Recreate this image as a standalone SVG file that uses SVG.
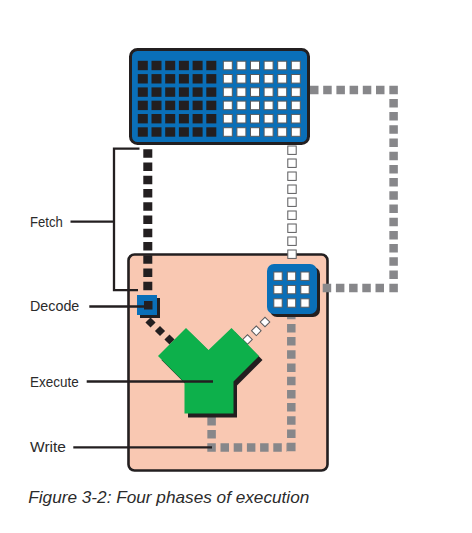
<svg xmlns="http://www.w3.org/2000/svg" width="472" height="533" viewBox="0 0 472 533">
  <style>
    .ink { fill: #231f20; }
    .blue { fill: #0a6fb8; }
    .lead { stroke: #231f20; stroke-width: 2.3; fill: none; }
    .wsq { fill: #ffffff; stroke: #5a5a5c; stroke-width: 1; }
    .gray { stroke: #87878a; stroke-width: 8.5; fill: none; stroke-dasharray: 8.5 4.7; }
    .label { font-family: "Liberation Sans", Arial, sans-serif; font-size: 15px; fill: #2b2b2b; }
    .caption { font-family: "Liberation Sans", Arial, sans-serif; font-size: 17px; font-style: italic; fill: #2b2b2b; }
  </style>
  <defs>
    <rect id="bk" width="10" height="9.4" class="ink"/>
    <rect id="wk" width="9" height="8.6" class="wsq"/>
    <rect id="rk" width="8.4" height="8.4" class="wsq"/>
    <rect id="dmB" x="-3.6" y="-3.6" width="7.2" height="7.2" class="ink" transform="rotate(45)"/>
    <rect id="dmW" x="-3.4" y="-3.4" width="6.8" height="6.8" class="wsq" transform="rotate(45)"/>
  </defs>

  <rect width="472" height="533" fill="#ffffff"/>

  <!-- CPU body -->
  <g id="cpu">
    <rect x="128.5" y="254.5" width="199" height="216" rx="6" fill="#f9c8b2" stroke="#231f20" stroke-width="2.6"/>
  </g>

  <!-- data paths between the parts -->
  <g id="connectors">
    <!-- fetch path: memory to decode unit -->
    <line x1="147.8" y1="149.3" x2="147.8" y2="290.3" stroke="#231f20" stroke-width="9" stroke-dasharray="8.5 4.75"/>
    <!-- decode to execute -->
    <use href="#dmB" transform="translate(150.5,322.5)"/>
    <use href="#dmB" transform="translate(160,331)"/>
    <use href="#dmB" transform="translate(169.5,339.5)"/>
    <!-- register to execute -->
    <use href="#dmW" transform="translate(247.5,339.5)"/>
    <use href="#dmW" transform="translate(256.3,330.8)"/>
    <use href="#dmW" transform="translate(265,322)"/>
    <!-- memory to register (data) -->
    <use href="#rk" x="287.8" y="146"/>
    <use href="#rk" x="287.8" y="159"/>
    <use href="#rk" x="287.8" y="172"/>
    <use href="#rk" x="287.8" y="185"/>
    <use href="#rk" x="287.8" y="198"/>
    <use href="#rk" x="287.8" y="211"/>
    <use href="#rk" x="287.8" y="224"/>
    <use href="#rk" x="287.8" y="237"/>
    <use href="#rk" x="287.8" y="250"/>
    <!-- register back out to memory -->
    <line class="gray" x1="393.6" y1="85.7" x2="393.6" y2="292.5"/>
    <line class="gray" x1="310" y1="90" x2="385" y2="90"/>
    <line class="gray" x1="322.7" y1="288" x2="384" y2="288"/>
    <!-- write path -->
    <line class="gray" x1="291.3" y1="310.7" x2="291.3" y2="452"/>
    <line class="gray" x1="207.3" y1="447.5" x2="287" y2="447.5"/>
    <path class="gray" d="M211.6 438.6 V395"/>
  </g>

  <!-- decode unit -->
  <g id="decode">
    <rect x="140" y="298" width="20" height="20" class="ink"/>
    <rect x="137" y="295" width="20" height="20" class="blue"/>
    <rect x="144" y="301" width="8.5" height="8.5" class="ink"/>
  </g>

  <!-- execute unit -->
  <g id="execute">
    <polygon class="ink" transform="translate(3.5,4)" points="158,356 186,328 208.5,350 231.5,328 259,356 233.5,381.5 233.5,413.5 184.5,413.5 184.5,382.5"/>
    <polygon fill="#0db04b" points="158,356 186,328 208.5,350 231.5,328 259,356 233.5,381.5 233.5,413.5 184.5,413.5 184.5,382.5"/>
  </g>

  <!-- register file -->
  <g id="registers">
    <rect x="270" y="267" width="50" height="50" rx="7" class="ink"/>
    <rect x="267" y="264" width="50" height="50" rx="7" class="blue"/>
    <use href="#rk" x="273.8" y="272"/>
    <use href="#rk" x="287.3" y="272"/>
    <use href="#rk" x="300.8" y="272"/>
    <use href="#rk" x="273.8" y="285.4"/>
    <use href="#rk" x="287.3" y="285.4"/>
    <use href="#rk" x="300.8" y="285.4"/>
    <use href="#rk" x="273.8" y="298.8"/>
    <use href="#rk" x="287.3" y="298.8"/>
    <use href="#rk" x="300.8" y="298.8"/>
  </g>

  <!-- memory -->
  <g id="memory">
    <rect x="130.5" y="49.5" width="178" height="94" rx="7" class="blue" stroke="#231f20" stroke-width="3"/>
    <g>
      <use href="#bk" x="137.8" y="60.8"/><use href="#bk" x="151.5" y="60.8"/><use href="#bk" x="165.2" y="60.8"/><use href="#bk" x="178.9" y="60.8"/><use href="#bk" x="192.6" y="60.8"/><use href="#bk" x="206.3" y="60.8"/>
      <use href="#bk" x="137.8" y="74.1"/><use href="#bk" x="151.5" y="74.1"/><use href="#bk" x="165.2" y="74.1"/><use href="#bk" x="178.9" y="74.1"/><use href="#bk" x="192.6" y="74.1"/><use href="#bk" x="206.3" y="74.1"/>
      <use href="#bk" x="137.8" y="87.4"/><use href="#bk" x="151.5" y="87.4"/><use href="#bk" x="165.2" y="87.4"/><use href="#bk" x="178.9" y="87.4"/><use href="#bk" x="192.6" y="87.4"/><use href="#bk" x="206.3" y="87.4"/>
      <use href="#bk" x="137.8" y="100.7"/><use href="#bk" x="151.5" y="100.7"/><use href="#bk" x="165.2" y="100.7"/><use href="#bk" x="178.9" y="100.7"/><use href="#bk" x="192.6" y="100.7"/><use href="#bk" x="206.3" y="100.7"/>
      <use href="#bk" x="137.8" y="114"/><use href="#bk" x="151.5" y="114"/><use href="#bk" x="165.2" y="114"/><use href="#bk" x="178.9" y="114"/><use href="#bk" x="192.6" y="114"/><use href="#bk" x="206.3" y="114"/>
      <use href="#bk" x="137.8" y="127.3"/><use href="#bk" x="151.5" y="127.3"/><use href="#bk" x="165.2" y="127.3"/><use href="#bk" x="178.9" y="127.3"/><use href="#bk" x="192.6" y="127.3"/><use href="#bk" x="206.3" y="127.3"/>
    </g>
    <g>
      <use href="#wk" x="223.3" y="61.2"/><use href="#wk" x="236.9" y="61.2"/><use href="#wk" x="250.5" y="61.2"/><use href="#wk" x="264.1" y="61.2"/><use href="#wk" x="277.7" y="61.2"/><use href="#wk" x="291.3" y="61.2"/>
      <use href="#wk" x="223.3" y="74.5"/><use href="#wk" x="236.9" y="74.5"/><use href="#wk" x="250.5" y="74.5"/><use href="#wk" x="264.1" y="74.5"/><use href="#wk" x="277.7" y="74.5"/><use href="#wk" x="291.3" y="74.5"/>
      <use href="#wk" x="223.3" y="87.8"/><use href="#wk" x="236.9" y="87.8"/><use href="#wk" x="250.5" y="87.8"/><use href="#wk" x="264.1" y="87.8"/><use href="#wk" x="277.7" y="87.8"/><use href="#wk" x="291.3" y="87.8"/>
      <use href="#wk" x="223.3" y="101.1"/><use href="#wk" x="236.9" y="101.1"/><use href="#wk" x="250.5" y="101.1"/><use href="#wk" x="264.1" y="101.1"/><use href="#wk" x="277.7" y="101.1"/><use href="#wk" x="291.3" y="101.1"/>
      <use href="#wk" x="223.3" y="114.4"/><use href="#wk" x="236.9" y="114.4"/><use href="#wk" x="250.5" y="114.4"/><use href="#wk" x="264.1" y="114.4"/><use href="#wk" x="277.7" y="114.4"/><use href="#wk" x="291.3" y="114.4"/>
      <use href="#wk" x="223.3" y="127.7"/><use href="#wk" x="236.9" y="127.7"/><use href="#wk" x="250.5" y="127.7"/><use href="#wk" x="264.1" y="127.7"/><use href="#wk" x="277.7" y="127.7"/><use href="#wk" x="291.3" y="127.7"/>
    </g>
  </g>

  <!-- phase labels and leaders -->
  <g id="labels">
    <path class="lead" d="M139.5 148.6 H114 V290.2 H138"/>
    <line class="lead" x1="70.5" y1="221.7" x2="114" y2="221.7"/>
    <line class="lead" x1="89.3" y1="306.5" x2="144" y2="306.5"/>
    <line class="lead" x1="86.7" y1="381.5" x2="213" y2="381.5"/>
    <line class="lead" x1="73.3" y1="447.4" x2="212" y2="447.4"/>
    <text class="label" x="30" y="226.7" textLength="32.7" lengthAdjust="spacingAndGlyphs">Fetch</text>
    <text class="label" x="30" y="310.5" textLength="49.3" lengthAdjust="spacingAndGlyphs">Decode</text>
    <text class="label" x="30" y="386.8" textLength="48.7" lengthAdjust="spacingAndGlyphs">Execute</text>
    <text class="label" x="30" y="451.8" textLength="36" lengthAdjust="spacingAndGlyphs">Write</text>
  </g>

  <text class="caption" x="28.3" y="503.3" textLength="281" lengthAdjust="spacingAndGlyphs">Figure 3-2: Four phases of execution</text>
</svg>
